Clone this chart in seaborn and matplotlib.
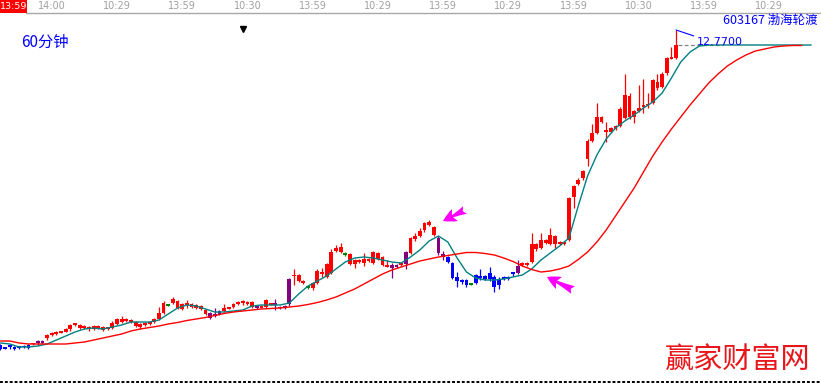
import numpy as np
import pandas as pd
import matplotlib
matplotlib.use("Agg")
import matplotlib.pyplot as plt
from matplotlib.patches import Rectangle
from matplotlib.lines import Line2D
import seaborn as sns

# 603167 60-minute bars (prices)
opens = [6.47, 6.42, 6.45, 6.41, 6.43, 6.45, 6.47, 6.49, 6.52, 6.51,
         6.61, 6.68, 6.69, 6.72, 6.73, 6.79, 6.88, 6.81, 6.82, 6.80,
         6.79, 6.82, 6.77, 6.80, 6.81, 6.89, 6.93, 6.95, 6.93, 6.85,
         6.83, 6.88, 6.90, 6.93, 6.99, 7.11, 7.26, 7.31, 7.21, 7.19,
         7.28, 7.23, 7.21, 7.19, 7.09, 7.01, 7.06, 7.09, 7.15, 7.20,
         7.23, 7.29, 7.32, 7.29, 7.23, 7.21, 7.22, 7.23, 7.28, 7.27,
         7.21, 7.22, 7.29, 7.85, 7.75, 7.71, 7.62, 7.61, 7.71, 7.90,
         7.83, 7.91, 8.35, 8.33, 8.28, 8.09, 8.09, 8.13, 8.11, 8.16,
         8.11, 8.19, 8.07, 8.04, 8.01, 8.04, 8.08, 8.09, 8.31, 8.59,
         8.65, 8.77, 8.87, 8.83, 8.61, 8.29, 8.23, 8.11, 7.83, 7.77,
         7.77, 7.69, 7.87, 7.83, 7.85, 7.91, 7.83, 7.79, 7.81, 7.81,
         7.91, 7.91, 8.08, 8.08, 8.13, 8.39, 8.41, 8.51, 8.49, 8.49,
         8.49, 8.50, 8.57, 9.43, 9.69, 9.81, 10.19, 10.55, 10.71, 10.93,
         10.73, 10.73, 10.79, 10.85, 11.01, 11.03, 11.03, 11.15, 11.23, 11.27,
         11.31, 11.61, 11.63, 11.91, 12.20, 12.21]
closes = [6.39, 6.40, 6.44, 6.40, 6.42, 6.43, 6.41, 6.50, 6.53, 6.55,
          6.67, 6.69, 6.73, 6.73, 6.79, 6.87, 6.89, 6.87, 6.83, 6.81,
          6.85, 6.83, 6.83, 6.81, 6.91, 6.99, 6.99, 6.99, 6.97, 6.93,
          6.89, 6.89, 6.93, 6.99, 7.11, 7.31, 7.27, 7.39, 7.35, 7.29,
          7.29, 7.29, 7.27, 7.25, 7.17, 7.11, 7.07, 7.15, 7.21, 7.21,
          7.29, 7.33, 7.33, 7.33, 7.33, 7.25, 7.25, 7.37, 7.29, 7.31,
          7.23, 7.25, 7.79, 7.86, 7.87, 7.75, 7.63, 7.71, 7.95, 7.91,
          8.09, 8.33, 8.41, 8.43, 8.29, 8.29, 8.17, 8.17, 8.19, 8.17,
          8.33, 8.31, 8.23, 8.05, 8.07, 8.05, 8.09, 8.33, 8.61, 8.65,
          8.75, 8.91, 8.93, 8.67, 8.31, 8.23, 8.13, 7.81, 7.75, 7.73,
          7.67, 7.68, 7.71, 7.82, 7.79, 7.79, 7.63, 7.67, 7.80, 7.80,
          7.90, 8.05, 8.09, 8.09, 8.49, 8.49, 8.57, 8.57, 8.67, 8.65,
          8.53, 8.53, 9.41, 9.65, 9.77, 9.95, 10.55, 10.71, 11.03, 11.03,
          10.77, 10.81, 10.85, 11.19, 11.47, 11.45, 11.15, 11.21, 11.27, 11.28,
          11.77, 11.73, 11.89, 12.21, 12.21, 12.47]
highs = [6.49, 6.43, 6.49, 6.45, 6.45, 6.47, 6.49, 6.51, 6.57, 6.57,
         6.69, 6.73, 6.75, 6.75, 6.81, 6.89, 6.91, 6.89, 6.87, 6.85,
         6.87, 6.87, 6.85, 6.83, 6.95, 7.01, 7.05, 7.01, 6.99, 6.95,
         6.91, 6.93, 6.95, 7.01, 7.23, 7.35, 7.29, 7.43, 7.37, 7.31,
         7.37, 7.31, 7.29, 7.27, 7.19, 7.13, 7.21, 7.17, 7.29, 7.23,
         7.31, 7.35, 7.37, 7.35, 7.35, 7.27, 7.27, 7.39, 7.31, 7.39,
         7.25, 7.27, 7.81, 7.99, 7.89, 7.77, 7.65, 7.73, 7.99, 8.01,
         8.11, 8.39, 8.47, 8.51, 8.33, 8.31, 8.19, 8.19, 8.31, 8.21,
         8.35, 8.33, 8.25, 8.17, 8.11, 8.09, 8.13, 8.35, 8.63, 8.71,
         8.81, 8.93, 8.97, 8.85, 8.65, 8.35, 8.25, 8.13, 7.93, 7.79,
         7.79, 7.71, 7.89, 7.99, 7.87, 8.03, 7.87, 7.83, 7.85, 7.85,
         7.93, 8.17, 8.13, 8.13, 8.71, 8.51, 8.71, 8.59, 8.81, 8.67,
         8.55, 8.55, 9.43, 9.67, 9.81, 9.97, 10.59, 10.89, 11.31, 11.05,
         10.93, 10.83, 10.87, 11.23, 11.89, 11.51, 11.17, 11.67, 11.79, 11.51,
         11.79, 11.89, 11.93, 12.23, 12.43, 12.77]
lows = [6.37, 6.39, 6.39, 6.37, 6.39, 6.41, 6.39, 6.47, 6.47, 6.49,
        6.57, 6.65, 6.67, 6.71, 6.73, 6.75, 6.85, 6.79, 6.79, 6.75,
        6.77, 6.79, 6.75, 6.77, 6.79, 6.87, 6.91, 6.93, 6.91, 6.83,
        6.79, 6.85, 6.87, 6.91, 6.97, 7.09, 7.25, 7.29, 7.19, 7.17,
        7.21, 7.21, 7.19, 7.17, 7.07, 6.99, 7.03, 7.07, 7.13, 7.19,
        7.21, 7.27, 7.27, 7.27, 7.21, 7.19, 7.21, 7.21, 7.27, 7.17,
        7.19, 7.19, 7.25, 7.67, 7.73, 7.69, 7.59, 7.57, 7.69, 7.83,
        7.81, 7.89, 8.33, 8.31, 8.25, 8.07, 8.01, 8.11, 8.05, 8.13,
        8.09, 8.17, 8.05, 8.03, 7.81, 8.01, 8.05, 7.99, 8.29, 8.55,
        8.63, 8.73, 8.85, 8.65, 8.27, 8.17, 8.11, 7.79, 7.63, 7.69,
        7.63, 7.67, 7.69, 7.77, 7.77, 7.75, 7.53, 7.59, 7.77, 7.77,
        7.85, 7.89, 8.05, 8.05, 8.11, 8.35, 8.39, 8.49, 8.47, 8.41,
        8.47, 8.47, 8.55, 9.21, 9.67, 9.77, 10.05, 10.53, 10.69, 10.91,
        10.53, 10.71, 10.77, 10.83, 10.99, 10.99, 10.91, 11.13, 11.11, 11.21,
        11.29, 11.57, 11.61, 11.87, 12.19, 12.19]
# bar state as drawn by the terminal: r above MA, b below, p crossing, g doji
states = ("bbbbbbbrpp" "rrrrrrrrrr" "rrrrrrrrrr" "rrrrrrgrrr" "rrrrrppprr"
          "rrrrrprrrp" "ppprrrgrrr" "rrrrgrrrrr" "rrrrpprprr" "rrrrppbbbb"
          "bgbbbbbbbb" "bprrrrrrrr" "rrrrrrrrrr" "rrrrrrrrrr" "rrrrrr")

# moving averages, one reading every 2 bars (they run on past the last bar)
ma_short = [6.51, 6.49, 6.43, 6.43, 6.45, 6.49, 6.57, 6.65, 6.73, 6.79,
            6.81, 6.79, 6.83, 6.87, 6.93, 6.93, 6.93, 6.97, 7.09, 7.21,
            7.27, 7.25, 7.19, 7.13, 7.13, 7.15, 7.17, 7.25, 7.27, 7.27,
            7.27, 7.31, 7.49, 7.65, 7.75, 7.85, 7.99, 8.13, 8.21, 8.23,
            8.21, 8.17, 8.13, 8.11, 8.23, 8.37, 8.55, 8.65, 8.53, 8.21,
            7.93, 7.81, 7.77, 7.77, 7.79, 7.83, 7.87, 7.99, 8.17, 8.31,
            8.45, 8.61, 9.25, 9.85, 10.27, 10.59, 10.81, 10.95, 11.07, 11.21,
            11.33, 11.51, 11.81, 12.13, 12.33, 12.45, 12.47, 12.47, 12.47, 12.47,
            12.47, 12.47, 12.47, 12.47, 12.47, 12.47, 12.47, 12.47]
ma_long = [6.55, 6.55, 6.51, 6.49, 6.49, 6.49, 6.49, 6.49, 6.51, 6.53,
           6.57, 6.61, 6.65, 6.69, 6.75, 6.79, 6.82, 6.85, 6.89, 6.92,
           6.96, 6.99, 7.02, 7.06, 7.10, 7.13, 7.15, 7.17, 7.19, 7.20,
           7.21, 7.23, 7.25, 7.28, 7.32, 7.37, 7.43, 7.51, 7.59, 7.69,
           7.79, 7.89, 7.97, 8.03, 8.09, 8.15, 8.19, 8.23, 8.26, 8.29,
           8.32, 8.32, 8.30, 8.27, 8.21, 8.14, 8.05, 7.98, 7.93, 7.95,
           7.99, 8.05, 8.18, 8.33, 8.53, 8.77, 9.05, 9.33, 9.61, 9.93,
           10.25, 10.53, 10.79, 11.03, 11.27, 11.49, 11.71, 11.89, 12.05, 12.17,
           12.27, 12.35, 12.39, 12.43, 12.45, 12.46, 12.46]

time_ticks = [11, 25, 39, 53, 67, 81, 95, 109, 123, 137, 151, 165]
time_labels = ["14:00", "10:29", "13:59", "10:30", "13:59", "10:29",
               "13:59", "10:29", "13:59", "10:30", "13:59", "10:29"]

state_colors = {"r": "#ff0000", "b": "#0000ff", "p": "#800080", "g": "#008000"}

sns.set_theme(style="white")
plt.rcParams["font.family"] = ["Noto Sans CJK SC", "DejaVu Sans"]

W, H = 821, 385
fig = plt.figure(figsize=(W / 100, H / 100), dpi=100)
fig.patch.set_facecolor("white")
ax = fig.add_axes([0, 0, 1, 1])
ax.set_xlim(-0.107, 176.1)
ax.set_ylim(5.67, 13.37)
ax.axis("off")

bars = pd.DataFrame({"open": opens, "close": closes, "high": highs, "low": lows,
                     "state": list(states)})
bars["idx"] = np.arange(len(bars))
bars["color"] = bars["state"].map(state_colors)
bars["bottom"] = bars[["open", "close"]].min(axis=1)
bars["body"] = (bars["close"] - bars["open"]).abs().clip(lower=0.026)

# wicks and bodies
ax.vlines(bars["idx"], bars["low"], bars["high"], colors=bars["color"], lw=0.9, zorder=2)
ax.bar(bars["idx"], bars["body"], bottom=bars["bottom"], width=0.82,
       color=bars["color"], linewidth=0, zorder=2)

# moving averages
sns.lineplot(x=np.arange(len(ma_short)) * 2, y=ma_short, color="#008080", lw=1.0,
             ax=ax, zorder=3)
sns.lineplot(x=np.arange(len(ma_long)) * 2, y=ma_long, color="#ff0000", lw=1.0,
             ax=ax, zorder=3)

# last close reference line
ax.hlines(closes[-1], len(closes) - 0.5, 155, colors="#808080", lw=0.9,
          linestyles=(0, (3, 2)), zorder=1)

# top time bar
fig.add_artist(Line2D([26 / W, 1], [1 - 12.5 / H] * 2, color="#a8a8a8", lw=1))
for t, lab in zip(time_ticks, time_labels):
    ax.text(t, 1 - 6 / H, lab, transform=ax.get_xaxis_transform(), ha="center",
            va="center", fontsize=7, color="#a0a0a0", family="DejaVu Sans")
fig.add_artist(Rectangle((0, 1 - 12.5 / H), 26.5 / W, 12.5 / H, transform=fig.transFigure,
                         color="#ff0000", lw=0))
fig.text(13.2 / W, 1 - 6.3 / H, "13:59", color="white", fontsize=6.8, ha="center",
         va="center", family="DejaVu Sans")
ax.plot([243 / W], [1 - 29 / H], marker="v", color="black", markersize=4,
        transform=fig.transFigure)

fig.text(21 / W, 1 - 42 / H, "60分钟", color="#0000ff", fontsize=11, va="center")
fig.text(818 / W, 1 - 20 / H, "603167 渤海轮渡", color="#0000ff", fontsize=9,
         ha="right", va="center")

# highest price pointer
ax.annotate(f"{max(highs):.4f}", xy=(int(np.argmax(highs)), max(highs)),
            xytext=(697, H - 42), textcoords="figure pixels", color="#0000ff",
            fontsize=8, va="center", family="DejaVu Sans",
            arrowprops=dict(arrowstyle="-", color="#0000ff", lw=0.8,
                            shrinkA=0, shrinkB=0, relpos=(0, 1)))

# magenta marker arrows
for tip, tail in [((443, H - 221), (465, H - 210)), ((547, H - 277), (573, H - 290))]:
    ax.annotate("", xy=tip, xycoords="figure pixels", xytext=tail,
                textcoords="figure pixels",
                arrowprops=dict(arrowstyle="fancy,head_width=0.8,head_length=0.8,tail_width=0.5",
                                color="#ff00ff", lw=0, shrinkA=0, shrinkB=0))

# watermark and bottom border
fig.text(665 / W, 1 - 360 / H, "赢家财富网", color="#e8151b", fontsize=21,
         va="center", fontweight="light")
fig.add_artist(Line2D([0, 1], [1 - 382 / H] * 2, color="black", lw=1.4,
                      linestyle=(0, (1.5, 1))))

fig.savefig("out.png", dpi=100, facecolor="white")
